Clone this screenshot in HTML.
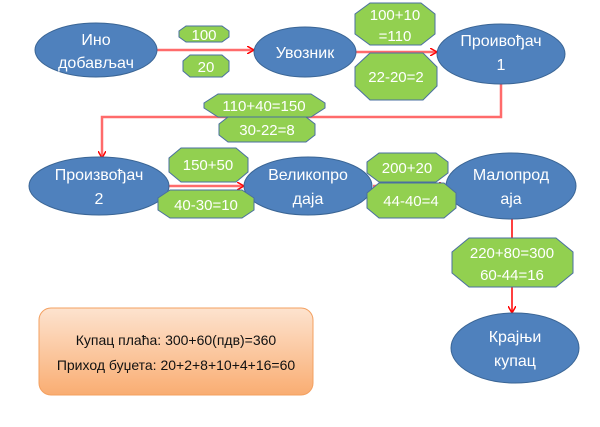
<!DOCTYPE html>
<html><head><meta charset="utf-8"><style>
html,body{margin:0;padding:0;background:#fff;width:600px;height:427px;overflow:hidden}
svg text{font-family:"Liberation Sans Narrow","Liberation Sans",sans-serif}
</style></head><body>
<svg width="600" height="427" viewBox="0 0 600 427" xmlns="http://www.w3.org/2000/svg">
<defs>
<linearGradient id="og" x1="0" y1="0" x2="0" y2="1"><stop offset="0" stop-color="#fde3cf"/><stop offset="1" stop-color="#f9ad72"/></linearGradient>
<marker id="ar" markerWidth="8" markerHeight="8" refX="7" refY="4" orient="auto" markerUnits="userSpaceOnUse"><path d="M0,0 L7,4 L0,8" fill="none" stroke="#f00" stroke-width="1.5"/></marker>
</defs>
<g stroke="#ff6b6b" stroke-width="2.5" fill="none">
<line x1="157" y1="50" x2="254" y2="50" marker-end="url(#ar)"/>
<line x1="356" y1="52" x2="437" y2="52" marker-end="url(#ar)"/>
<polyline points="501,83 501,117 102,117 102,158" marker-end="url(#ar)"/>
<line x1="169" y1="186" x2="244" y2="186" marker-end="url(#ar)"/>
<line x1="373" y1="186" x2="446" y2="186" marker-end="url(#ar)"/>
<line x1="512" y1="219" x2="512" y2="238" stroke="#f00" stroke-width="1.5"/>
<line x1="512" y1="287" x2="512" y2="313" stroke="#f00" stroke-width="1.5" marker-end="url(#ar)"/>
</g>
<g fill="#4f81bd" stroke="#3a6595" stroke-width="1">
<ellipse cx="96" cy="50" rx="61" ry="27"/>
<ellipse cx="305" cy="52" rx="51" ry="25"/>
<ellipse cx="501" cy="54" rx="64" ry="30"/>
<ellipse cx="99" cy="186" rx="70" ry="29"/>
<ellipse cx="308" cy="186" rx="64" ry="29"/>
<ellipse cx="511" cy="186" rx="65" ry="33"/>
<ellipse cx="515" cy="348" rx="64" ry="35"/>
</g>
<g fill="#92d050" stroke="#4a6fa0" stroke-width="1">
<polygon points="186,26 222,26 229,31 229,37 222,42 186,42 179,37 179,31"/>
<polygon points="190,55 222,55 229,61 229,71 222,77 190,77 183,71 183,61"/>
<polygon points="370,3 421,3 435,14 435,34 421,45 370,45 355,34 355,14"/>
<polygon points="370,53 423,53 437,67 437,86 423,100 370,100 355,86 355,67"/>
<polygon points="218,94 311,94 325,103 325,108 311,117 218,117 204,108 204,103"/>
<polygon points="228,117 306,117 315,124 315,135 306,142 228,142 219,135 219,124"/>
<polygon points="181,148 236,148 248,158 248,172 236,182 181,182 169,172 169,158"/>
<polygon points="170,190 242,190 254,198 254,210 242,218 170,218 158,210 158,198"/>
<polygon points="379,153 436,153 448,162 448,173 436,182 379,182 367,173 367,162"/>
<polygon points="379,183 444,183 456,193 456,208 444,218 379,218 367,208 367,193"/>
<polygon points="469,238 556,238 573,252 573,273 556,287 469,287 452,273 452,252"/>
</g>
<rect x="39" y="308" width="274" height="87" rx="12" fill="url(#og)" stroke="#f3a060" stroke-width="1"/>
<g fill="#fff" font-size="16" text-anchor="middle">
<text x="96" y="45">Ино</text><text x="96" y="68">добављач</text>
<text x="305" y="58">Увозник</text>
<text x="501" y="46">Проивођач</text><text x="501" y="70">1</text>
<text x="99" y="180">Произвођач</text><text x="99" y="204">2</text>
<text x="308" y="180">Великопро</text><text x="308" y="204">даја</text>
<text x="511" y="180">Малопрод</text><text x="511" y="204">аја</text>
<text x="515" y="342">Крајњи</text><text x="515" y="366">купац</text>
</g>
<g fill="#fff" font-size="15" text-anchor="middle">
<text x="204" y="40">100</text>
<text x="206" y="72">20</text>
<text x="395" y="20">100+10</text><text x="395" y="41">=110</text>
<text x="396" y="82">22-20=2</text>
<text x="264" y="111">110+40=150</text>
<text x="267" y="135">30-22=8</text>
<text x="208" y="170">150+50</text>
<text x="206" y="210">40-30=10</text>
<text x="407" y="173">200+20</text>
<text x="411" y="206">44-40=4</text>
<text x="512" y="258">220+80=300</text><text x="512" y="280">60-44=16</text>
</g>
<g fill="#111" font-size="14" text-anchor="middle">
<text x="176" y="345">Купац плаћа: 300+60(пдв)=360</text>
<text x="176" y="370">Приход буџета: 20+2+8+10+4+16=60</text>
</g>
</svg>
</body></html>
